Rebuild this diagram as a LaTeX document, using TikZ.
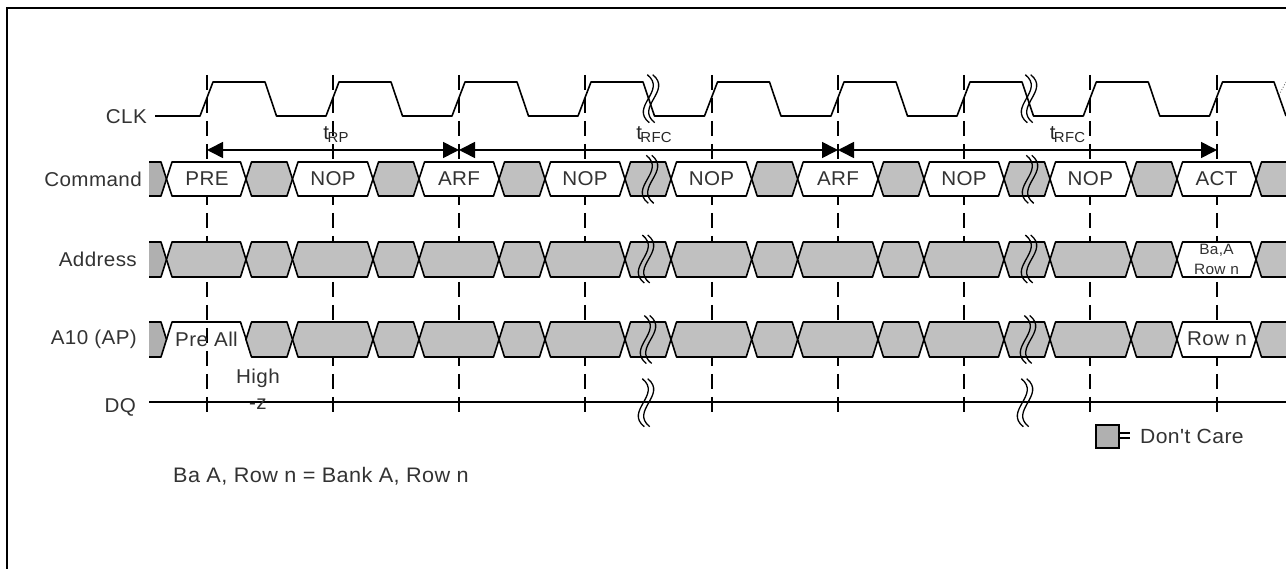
\documentclass[tikz,border=0pt]{standalone}
\usepackage{fontspec}
\setmainfont[Ligatures=TeXOff,FakeStretch=1.03,LetterSpace=2]{Liberation Sans}
\usetikzlibrary{arrows.meta}
\definecolor{dcfill}{HTML}{C0C0C0}
\definecolor{dcdark}{HTML}{B0B0B0}
\definecolor{txt}{HTML}{333333}
\newcommand{\brk}[2]{%
  \draw[breakline] (#1-3.7,#2-24) .. controls (#1+16.3,#2-8) and (#1-21.7,#2+8) .. (#1-1.7,#2+24);
  \draw[breakline] (#1+1.7,#2-24) .. controls (#1+21.7,#2-8) and (#1-16.3,#2+8) .. (#1+3.7,#2+24);
}
\newcommand{\hexa}[5]{% left cross, right cross, top, bottom, fill
  \filldraw[sigline,fill=#5] (#1,{(#3+#4)/2}) -- (#1+5.5,#3) -- (#2-5.5,#3) -- (#2,{(#3+#4)/2}) -- (#2-5.5,#4) -- (#1+5.5,#4) -- cycle;
}
\newcommand{\hexend}[5]{% right-hand gray piece open at the page edge
  \fill[#5] (#1,{(#3+#4)/2}) -- (#1+5.5,#3) -- (#2,#3) -- (#2,#4) -- (#1+5.5,#4) -- cycle;
  \draw[sigline] (#2,#3) -- (#1+5.5,#3) -- (#1,{(#3+#4)/2}) -- (#1+5.5,#4) -- (#2,#4);
}
\newcommand{\hexstart}[2]{% left-hand dark piece
  \fill[dcdark] (149,#1) -- (161,#1) -- (166.5,{(#1+#2)/2}) -- (161,#2) -- (149,#2) -- cycle;
  \draw[sigline] (149,#1) -- (161,#1) -- (166.5,{(#1+#2)/2}) -- (161,#2) -- (149,#2);
}
\tikzset{
  x=1pt,y=-1pt,
  sigline/.style={draw=black,line width=1.6pt,line join=round},
  breakline/.style={draw=black,line width=1.3pt},
  gridline/.style={draw=black,line width=1.6pt,dash pattern=on 15pt off 8pt},
  span/.style={draw=black,line width=1.6pt,{Triangle[length=16pt,width=16pt]}-{Triangle[length=16pt,width=16pt]}},
  lab/.style={font=\fontsize{20}{22}\selectfont,text=txt,inner sep=0pt},
  rlab/.style={lab,anchor=east},
  small/.style={font=\fontsize{15}{17}\selectfont,text=txt,inner sep=0pt},
  timing/.style={inner sep=0pt,text=black!85,font=\fontsize{20}{22}\selectfont},
}
\newcommand{\tsub}[1]{t\kern-1.5pt\raisebox{-3.5pt}{\fontsize{14.5}{16}\selectfont #1}}
\begin{document}
\begin{tikzpicture}
\useasboundingbox (0,0) rectangle (1286,569);
\fill[white] (0,0) rectangle (1286,569);
% frame
\draw[line width=1.8pt,black] (1286,8) -- (7,8) -- (7,569);
% grid coordinates
\foreach \n/\t in {a/207,b/333,c/459,d/585,e/712,f/838,g/964,h/1090,i/1217}{
  \coordinate (top\n) at (\t,75);
  \coordinate (bot\n) at (\t,412);
  \coordinate (arr\n) at (\t,150);
  \draw[gridline] (top\n) -- (bot\n);
}
% CLK
\draw[sigline] (155,116)
 \foreach \t in {207,333,459,585,711.5,838,964,1090.3}{ -- (\t-7,116) -- (\t+6,82) -- (\t+58,82) -- (\t+69.5,116) }
 -- (1216.5-7,116) -- (1216.5+6,82) -- (1274,82) -- (1286,116);
\draw[black!70,line width=0.8pt,dotted] (1279,95) -- (1286,82);
% signal rows
\hexstart{162}{196}
\hexstart{242}{277}
\hexstart{322}{357}
\foreach \l/\r/\f in {166.5/246/white,246/292.5/dcfill,292.5/373/white,373/419/dcfill,419/499/white,499/545/dcfill,545/625/white,625/671/dcfill,671/751.7/white,751.7/797.7/dcfill,797.7/878/white,878/924/dcfill,924/1004/white,1004/1050/dcfill,1050/1131/white,1131/1177/dcfill,1177/1256/white}{
  \hexa{\l}{\r}{162}{196}{\f}
}
\foreach \l/\r/\f in {166.5/246/dcfill,246/292.5/dcfill,292.5/373/dcfill,373/419/dcfill,419/499/dcfill,499/545/dcfill,545/625/dcfill,625/671/dcfill,671/751.7/dcfill,751.7/797.7/dcfill,797.7/878/dcfill,878/924/dcfill,924/1004/dcfill,1004/1050/dcfill,1050/1131/dcfill,1131/1177/dcfill,1177/1256/white}{
  \hexa{\l}{\r}{242}{277}{\f}
}
\foreach \l/\r/\f in {292.5/373/dcfill,373/419/dcfill,419/499/dcfill,499/545/dcfill,545/625/dcfill,625/671/dcfill,671/751.7/dcfill,751.7/797.7/dcfill,797.7/878/dcfill,878/924/dcfill,924/1004/dcfill,1004/1050/dcfill,1050/1131/dcfill,1131/1177/dcfill,1177/1256/white}{
  \hexa{\l}{\r}{322}{357}{\f}
}
\hexend{1256}{1286}{162}{196}{dcfill}
\hexend{1256}{1286}{242}{277}{dcfill}
\hexend{1256}{1286}{322}{357}{dcfill}
% Pre All: open-bottomed transition
\draw[sigline] (166.5,339.5) -- (172,322) -- (240.5,322) -- (252,357);
\hexa{246}{292.5}{322}{357}{dcfill}
% DQ
\draw[sigline] (149,402) -- (1286,402);
% spans
\draw[span] (arra) -- (arrc);
\draw[span] (arrc) -- (arrf);
\draw[span] (arrf) -- (arri);
% breaks
\brk{651}{98.7}\brk{650}{179.3}\brk{646}{259}\brk{648}{339.5}\brk{646}{402.7}
\brk{1029}{98.7}\brk{1030}{179.3}\brk{1029}{259}\brk{1028}{339.5}\brk{1025}{402.7}
% labels
\node[rlab] (lclk) at (147,117) {CLK};
\node[rlab] (lcmd) at (142,179) {Command};
\node[rlab] (ladr) at (137,259) {Address};
\node[rlab] (la10) at (137,339) {A10 (AP)};
\node[rlab] (ldq) at (136,407.5) {DQ};
\foreach \n/\x/\s in {pre/207/PRE,nopa/333/NOP,arfa/459/ARF,nopb/585/NOP,nopc/711.5/NOP,arfb/838/ARF,nopd/964/NOP,nope/1090.3/NOP,act/1216.5/ACT}{
  \node[lab] (\n) at (\x,179) {\s};
}
\node[small] (ba) at (1216.5,250) {Ba,A};
\node[small] (rowa) at (1216.5,269) {Row n};
\node[lab] (preall) at (206.5,339) {Pre All};
\node[lab] (rown) at (1217,339) {Row n};
\node[lab] (high) at (258,378) {High};
\node[lab] (hz) at (258,404.5) {-z};
\node[timing] (trp) at (336,134.5) {\tsub{RP}};
\node[timing] (trfca) at (654,134.5) {\tsub{RFC}};
\node[timing] (trfcb) at (1067.5,134.5) {\tsub{RFC}};
\node[lab,anchor=west] (note) at (173,476.5) {\fontsize{21}{23}\selectfont Ba A, Row n = Bank A, Row n};
% legend
\draw[fill=dcdark,line width=1.5pt,draw=black] (1096,425) rectangle (1119,448);
\coordinate (eqa) at (1119,433);
\coordinate (eqb) at (1130,433);
\coordinate (eqc) at (1119,438);
\coordinate (eqd) at (1130,438);
\draw[line width=1.1pt] (eqa) -- (eqb) (eqc) -- (eqd);
\node[lab,anchor=west] (dc) at (1140,436) {\fontsize{20.5}{22}\selectfont Don't Care};
\end{tikzpicture}
\end{document}
